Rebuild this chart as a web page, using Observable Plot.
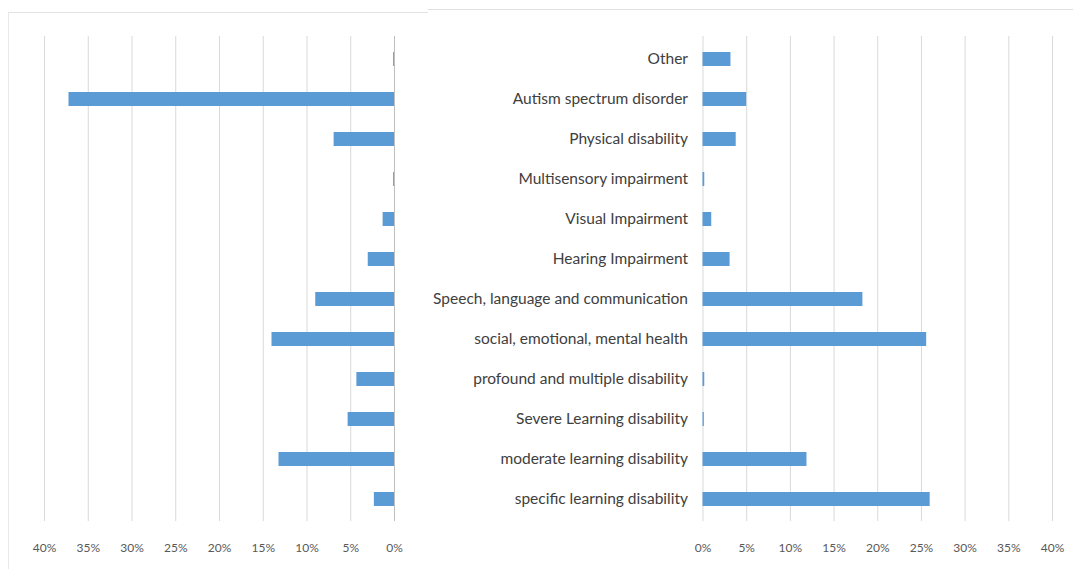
<!DOCTYPE html>
<html>
<head>
<meta charset="utf-8">
<script src="https://cdn.jsdelivr.net/npm/d3@7"></script>
<script src="https://cdn.jsdelivr.net/npm/@observablehq/plot@0.6"></script>
<style>
  html, body { margin: 0; padding: 0; background: #fff; }
  #wrap { position: relative; width: 1073px; height: 569px; overflow: hidden; background: #fff; }
  #left { position: absolute; left: 8px; top: 12px; width: 419px; height: 560px; border-top: 1px solid #e3e3e3; border-left: 1px solid #e8e8e8; }
  #right { position: absolute; left: 428px; top: 9px; width: 645px; height: 560px; border-top: 1px solid #e0e0e0; }
  #left svg, #right svg { position: absolute; left: 0; }
  #left svg { top: -2px; }
  #right svg { top: 1px; }
</style>
</head>
<body>
<div id="wrap">
  <div id="left"></div>
  <div id="right"></div>
</div>
<script>
const categories = [
  "Other",
  "Autism spectrum disorder",
  "Physical disability",
  "Multisensory impairment",
  "Visual Impairment",
  "Hearing Impairment",
  "Speech, language and communication",
  "social, emotional, mental health",
  "profound and multiple disability",
  "Severe Learning disability",
  "moderate learning disability",
  "specific learning disability"
];
const leftValues  = [0.1, 37.2, 6.9, 0.1, 1.3, 3.0, 9.0, 14.0, 4.3, 5.3, 13.2, 2.3];
const rightValues = [3.2, 5.0, 3.8, 0.2, 1.0, 3.1, 18.3, 25.6, 0.2, 0.15, 11.9, 26.0];
const tickValues  = [0, 5, 10, 15, 20, 25, 30, 35, 40];

const leftData = categories.map((c, i) => ({category: c, value: leftValues[i]}));
const rightData = categories.map((c, i) => ({category: c, value: rightValues[i]}));

const barColor = "#5B9BD5";
const gridColor = "#d9d9d9";
const textColor = "#595959";
const font = "Lato, 'Open Sans', sans-serif";

const leftPlot = Plot.plot({
  width: 419,
  height: 555,
  marginLeft: 35,
  marginRight: 34,
  marginTop: 25,
  marginBottom: 45,
  style: {fontFamily: font, background: "transparent", overflow: "visible"},
  x: {domain: [0, 40], reverse: true, label: null},
  y: {domain: categories, paddingInner: 0.66, paddingOuter: 0.33, axis: null},
  marks: [
    Plot.gridX(tickValues, {stroke: gridColor, strokeOpacity: 1}),
    Plot.ruleX([0], {stroke: "#bfbfbf"}),
    Plot.barX(leftData, {x: "value", y: "category", fill: barColor}),
    Plot.axisX(tickValues, {anchor: "bottom", tickSize: 0, tickPadding: 22, fontSize: 12, fill: textColor, tickFormat: d => d + "%", label: null})
  ]
});
document.getElementById("left").appendChild(leftPlot);

const rightPlot = Plot.plot({
  width: 645,
  height: 555,
  marginLeft: 274.5,
  marginRight: 21,
  marginTop: 25,
  marginBottom: 45,
  style: {fontFamily: font, background: "transparent", overflow: "visible"},
  x: {domain: [0, 40], label: null},
  y: {domain: categories, paddingInner: 0.66, paddingOuter: 0.33, label: null},
  marks: [
    Plot.gridX(tickValues, {stroke: gridColor, strokeOpacity: 1}),
    Plot.barX(rightData, {x: "value", y: "category", fill: barColor}),
    Plot.axisY({anchor: "left", tickSize: 0, tickPadding: 15, fontSize: 15.5, fill: "#404040", label: null}),
    Plot.axisX(tickValues, {anchor: "bottom", tickSize: 0, tickPadding: 22, fontSize: 12, fill: textColor, tickFormat: d => d + "%", label: null})
  ]
});
document.getElementById("right").appendChild(rightPlot);
</script>
</body>
</html>
